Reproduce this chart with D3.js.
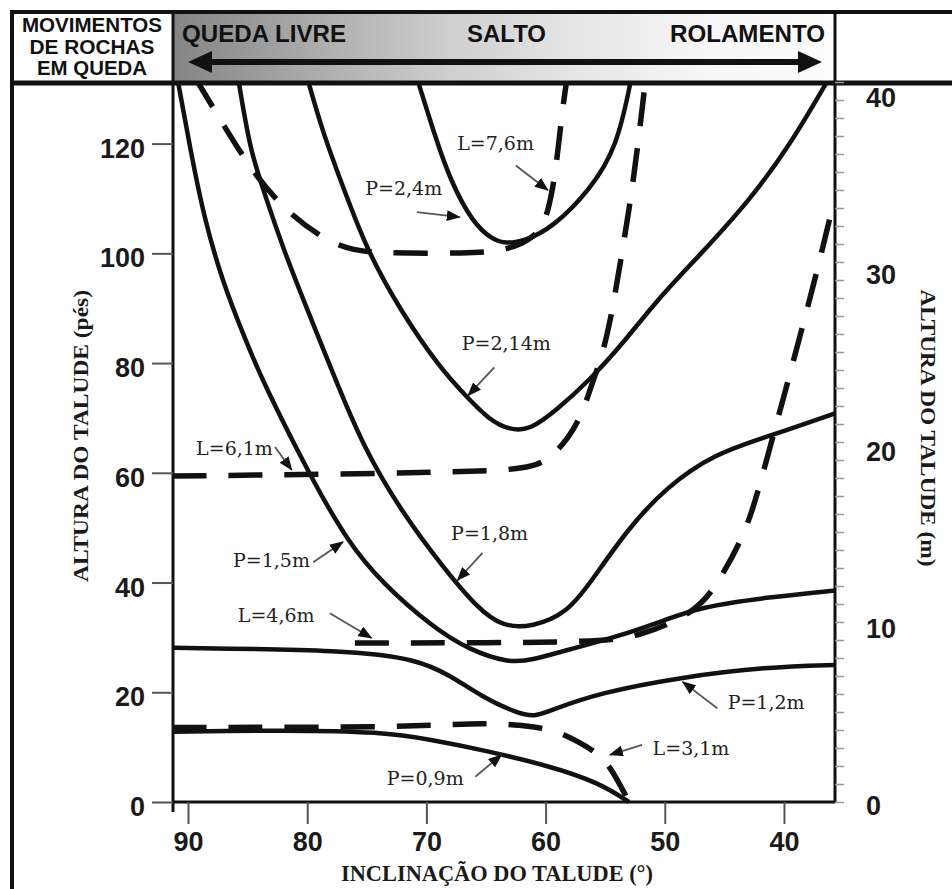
<!DOCTYPE html>
<html>
<head>
<meta charset="utf-8">
<script src="https://cdn.jsdelivr.net/npm/d3@7"></script>
<style>
  body { margin: 0; background: #fff; }
  svg { display: block; }
</style>
</head>
<body>
<svg id="chart" width="952" height="889"></svg>
<script>
// ---- data: inclination (deg) / height (ft) ----
const p24Deg  = [70.8, 69.3, 68.0, 66.1, 64.4, 63.3, 61.8, 59.4, 56.3, 54.0, 52.8];
const p24Ft   = [132, 121.5, 113.3, 105.5, 102.4, 101.8, 102.2, 104.7, 111.5, 119.3, 132];

const p214Deg = [80.0, 78.7, 76.7, 75.0, 72.2, 68.9, 66.6, 64.7, 63.0, 61.3, 59.1, 56.3, 53.5, 50.7, 47.1, 42.9, 39.5, 36.2];
const p214Ft  = [132, 122.0, 110.4, 100.7, 89.6, 79.2, 73.8, 69.6, 67.8, 67.8, 71.4, 76.9, 83.6, 91.4, 99.6, 109.6, 119.7, 132];

const p18Deg  = [85.8, 84.8, 83.7, 82.0, 79.8, 77.7, 75.3, 72.0, 68.6, 65.8, 63.6, 61.1, 58.2, 56.1, 53.2, 49.9, 45.7, 41.5, 35.5];
const p18Ft   = [132, 118.9, 111.7, 100.7, 88.7, 77.4, 64.7, 52.6, 42.8, 35.5, 31.9, 31.9, 34.4, 40.4, 49.5, 57.4, 63.6, 66.5, 71.0];

const p15Deg  = [90.9, 89.8, 88.7, 87.1, 85.1, 83.7, 79.8, 76.6, 73.7, 69.5, 66.4, 63.0, 61.1, 58.2, 54.0, 49.9, 47.1, 41.5, 35.5];
const p15Ft   = [132, 118.9, 106.9, 94.7, 83.8, 76.5, 59.6, 47.4, 39.9, 31.9, 27.7, 25.3, 25.9, 27.7, 30.1, 33.2, 35.5, 37.3, 38.6];

const p12Deg  = [91.3, 76.4, 70.8, 68.0, 65.3, 62.4, 60.9, 59.7, 55.5, 48.5, 41.5, 35.5];
const p12Ft   = [28.1, 27.7, 26.0, 23.1, 19.1, 16.2, 15.5, 16.6, 19.9, 22.8, 24.6, 25.0];

const p09Deg  = [91.3, 82.0, 73.7, 69.5, 65.3, 59.7, 55.5, 53.0];
const p09Ft   = [12.8, 13.1, 12.8, 11.3, 9.5, 6.6, 3.5, 0];

const l31Deg  = [91.3, 70.8, 65.3, 60.5, 58.6, 55.5, 54.4, 53.0];
const l31Ft   = [13.6, 13.6, 14.6, 13.7, 12.6, 8.9, 5.8, 0];

const l46Deg  = [76.0, 56.3, 52.1, 47.3, 45.4, 43.1, 41.8, 39.8, 38.3, 37.0, 35.9];
const l46Ft   = [29.0, 29.0, 30.1, 34.6, 40.4, 49.5, 59.6, 75.6, 87.8, 98.7, 108.7];

const l61Deg  = [91.3, 65.5, 61.9, 59.9, 58.0, 56.9, 56.1, 55.3, 54.6, 53.8, 53.0, 52.3, 51.6];
const l61Ft   = [59.4, 60.1, 60.8, 61.9, 66.5, 70.9, 76.3, 81.1, 87.2, 97.4, 107.8, 118.8, 132];

const l76Deg  = [89.4, 87.3, 84.6, 81.5, 77.3, 73.9, 66.4, 63.4, 61.3, 60.1, 59.5, 59.1, 58.6, 58.2];
const l76Ft   = [132, 124.4, 114.8, 106.9, 100.7, 100.0, 100.0, 100.5, 102.4, 105.1, 110.6, 116.0, 126.0, 132];

// curve labels and their pointer arrows
const curveLabels = ['L=7,6m', 'P=2,4m', 'P=2,14m', 'L=6,1m', 'P=1,5m', 'P=1,8m', 'L=4,6m', 'P=1,2m', 'L=3,1m', 'P=0,9m'];
const labelDeg    = [64.2, 71.9, 63.3, 86.1, 83.0, 64.7, 82.6, 41.5, 47.8, 70.1];
const labelFt     = [120.0, 111.8, 83.6, 64.5, 44.1, 49.0, 34.1, 18.2, 9.7, 4.4];
const arrowFrom   = [[62.5, 116.0], [70.8, 107.5], [64.3, 79.2], [82.7, 64.7], [79.5, 43.7], [65.3, 45.4], [78.1, 34.4], [45.6, 17.1], [51.9, 10.4], [65.9, 4.6]];
const arrowTo     = [[59.8, 111.5], [67.2, 106.6], [66.5, 74.1], [81.3, 60.5], [77.0, 47.4], [67.4, 40.4], [74.6, 29.9], [48.5, 21.9], [54.6, 8.6], [63.7, 8.6]];

// ticks
const degTicks = [90, 80, 70, 60, 50, 40];
const ftTicks  = [0, 20, 40, 60, 80, 100, 120];
const mTicks   = [0, 10, 20, 30, 40];
const movementLabels = ['QUEDA LIVRE', 'SALTO', 'ROLAMENTO'];
const boxLines = ['MOVIMENTOS', 'DE ROCHAS', 'EM QUEDA'];

// ---- layout ----
const svg = d3.select('#chart');
const plotL = 173, plotR = 835, plotT = 82, plotB = 802;

const x = d3.scaleLinear().domain([91.26, 35.72]).range([plotL, plotR]);
const y = d3.scaleLinear().domain([0, 131.23]).range([plotB, plotT]);
const yM = d3.scaleLinear().domain([0, 40]).range([plotB, plotT]);
// right hand labels sit a little under their ticks in the original
const yMLabel = d3.scaleLinear().domain([0, 40]).range([806, 98]);

const defs = svg.append('defs');
const grad = defs.append('linearGradient').attr('id', 'hdr').attr('x1', 0).attr('x2', 1);
[[0, '#848484'], [0.2, '#a9a9a9'], [0.42, '#cfcfcf'], [0.62, '#e7e7e7'], [0.8, '#f6f6f6'], [1, '#fdfdfd']]
  .forEach(s => grad.append('stop').attr('offset', s[0]).attr('stop-color', s[1]));

defs.append('clipPath').attr('id', 'plot')
  .append('rect').attr('x', plotL).attr('y', plotT).attr('width', plotR - plotL).attr('height', plotB - plotT + 3);

defs.append('marker').attr('id', 'head')
  .attr('markerUnits', 'userSpaceOnUse')
  .attr('markerWidth', 14).attr('markerHeight', 11)
  .attr('refX', 13).attr('refY', 5.5).attr('orient', 'auto')
  .append('path').attr('d', 'M0,0 L14,5.5 L0,11 Z').attr('fill', '#111');

// ---- header band ----
svg.append('rect').attr('x', plotL).attr('y', 12).attr('width', plotR - plotL).attr('height', 71).attr('fill', 'url(#hdr)');

const bold = 'Liberation Sans, Arial, sans-serif';
const serif = 'Liberation Serif, Times New Roman, serif';

const boxY = [32, 54, 75], boxW = [140, 125, 110];
svg.selectAll('.box').data(boxLines).enter().append('text')
  .attr('x', 92).attr('y', (d, i) => boxY[i])
  .attr('text-anchor', 'middle')
  .attr('textLength', (d, i) => boxW[i]).attr('lengthAdjust', 'spacingAndGlyphs')
  .style('font', 'bold 20px ' + bold).attr('fill', '#111')
  .text(d => d);

const movX = [182, 467, 670], movW = [164, 79, 155];
svg.selectAll('.mov').data(movementLabels).enter().append('text')
  .attr('x', (d, i) => movX[i]).attr('y', 42)
  .attr('textLength', (d, i) => movW[i]).attr('lengthAdjust', 'spacingAndGlyphs')
  .style('font', 'bold 23px ' + bold).attr('fill', '#111')
  .text(d => d);

// double arrow
svg.append('line').attr('x1', 205).attr('x2', 805).attr('y1', 62).attr('y2', 62)
  .attr('stroke', '#111').attr('stroke-width', 6);
svg.append('path').attr('d', 'M188,62 L212,51 L212,73 Z').attr('fill', '#111');
svg.append('path').attr('d', 'M822,62 L798,51 L798,73 Z').attr('fill', '#111');

// frame lines
const frame = [
  [12, 12, 952, 12, 4],
  [12, 83, 952, 83, 5],
  [12, 10, 12, 889, 4],
  [plotR, 12, plotR, 83, 3],
  [plotL, 12, plotL, 812, 3],
  [plotL, plotB, plotR, plotB, 3],
  [plotR, 83, plotR, plotB, 3]
];
svg.selectAll('.frame').data(frame).enter().append('line')
  .attr('x1', d => d[0]).attr('y1', d => d[1]).attr('x2', d => d[2]).attr('y2', d => d[3])
  .attr('stroke', '#111').attr('stroke-width', d => d[4]);

// ---- axes ----
const gl = svg.append('g').attr('transform', `translate(${plotL},0)`)
  .call(d3.axisLeft(y).tickValues(ftTicks).tickSize(21).tickPadding(7));
gl.select('.domain').remove();
gl.selectAll('line').attr('stroke', '#555').attr('stroke-width', 2);
gl.selectAll('text').attr('dy', '0.5em').style('font', 'bold 27px ' + bold).attr('fill', '#1a1a1a');

const gb = svg.append('g').attr('transform', `translate(0,${plotB})`)
  .call(d3.axisBottom(x).tickValues(degTicks).tickSize(22).tickPadding(8));
gb.select('.domain').remove();
gb.selectAll('line').attr('stroke', '#555').attr('stroke-width', 2);
gb.selectAll('text').style('font', 'bold 27px ' + bold).attr('fill', '#1a1a1a');

const gr = svg.append('g').attr('transform', `translate(${plotR},0)`)
  .call(d3.axisRight(yM).tickValues(d3.range(0, 41)).tickSize(9).tickFormat(''));
gr.select('.domain').remove();
gr.selectAll('line').attr('stroke', '#999').attr('stroke-width', 1.5);

svg.selectAll('.mlab').data(mTicks).enter().append('text')
  .attr('x', 866).attr('y', d => yMLabel(d)).attr('dy', '0.35em')
  .style('font', 'bold 27px ' + bold).attr('fill', '#1a1a1a')
  .text(d => d);

// axis titles
svg.append('text').attr('transform', 'translate(88,436) rotate(-90)')
  .attr('text-anchor', 'middle')
  .attr('textLength', 292).attr('lengthAdjust', 'spacingAndGlyphs')
  .style('font', 'bold 22px ' + serif).attr('fill', '#1a1a1a')
  .text('ALTURA DO TALUDE (pés)');

svg.append('text').attr('transform', 'translate(921,428) rotate(90)')
  .attr('text-anchor', 'middle')
  .attr('textLength', 277).attr('lengthAdjust', 'spacingAndGlyphs')
  .style('font', 'bold 22px ' + serif).attr('fill', '#1a1a1a')
  .text('ALTURA DO TALUDE (m)');

svg.append('text').attr('x', 497).attr('y', 881)
  .attr('text-anchor', 'middle')
  .attr('textLength', 312).attr('lengthAdjust', 'spacingAndGlyphs')
  .style('font', 'bold 24px ' + serif).attr('fill', '#1a1a1a')
  .text('INCLINAÇÃO DO TALUDE (°)');

// ---- curves ----
const curves = [
  { deg: p24Deg, ft: p24Ft, dashed: false },
  { deg: p214Deg, ft: p214Ft, dashed: false },
  { deg: p18Deg, ft: p18Ft, dashed: false },
  { deg: p15Deg, ft: p15Ft, dashed: false },
  { deg: p12Deg, ft: p12Ft, dashed: false },
  { deg: p09Deg, ft: p09Ft, dashed: false },
  { deg: l31Deg, ft: l31Ft, dashed: true },
  { deg: l46Deg, ft: l46Ft, dashed: true },
  { deg: l61Deg, ft: l61Ft, dashed: true },
  { deg: l76Deg, ft: l76Ft, dashed: true }
];

const line = d3.line()
  .x(d => x(d[0])).y(d => y(d[1]))
  .curve(d3.curveBasis);

svg.append('g').attr('clip-path', 'url(#plot)')
  .selectAll('path').data(curves).enter().append('path')
  .attr('d', c => line(c.deg.map((v, i) => [v, c.ft[i]])))
  .attr('fill', 'none')
  .attr('stroke', '#111')
  .attr('stroke-width', c => c.dashed ? 5.5 : 4.5)
  .attr('stroke-dasharray', c => c.dashed ? '34,22' : null)
  .attr('stroke-linejoin', 'round');

// ---- labels with pointers ----
svg.selectAll('.ptr').data(arrowFrom).enter().append('line')
  .attr('x1', d => x(d[0])).attr('y1', d => y(d[1]))
  .attr('x2', (d, i) => x(arrowTo[i][0])).attr('y2', (d, i) => y(arrowTo[i][1]))
  .attr('stroke', '#555').attr('stroke-width', 1.8)
  .attr('marker-end', 'url(#head)');

svg.selectAll('.lab').data(curveLabels).enter().append('text')
  .attr('x', (d, i) => x(labelDeg[i])).attr('y', (d, i) => y(labelFt[i]))
  .attr('dy', '0.35em').attr('text-anchor', 'middle')
  .style('font', '19px DejaVu Serif, serif').attr('fill', '#222')
  .text(d => d);
</script>
</body>
</html>
